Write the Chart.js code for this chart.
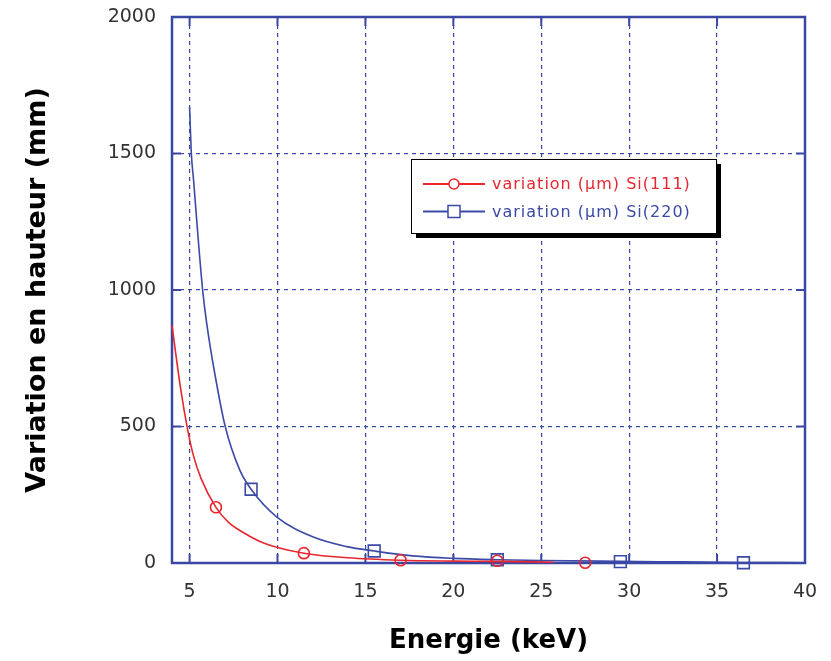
<!DOCTYPE html>
<html><head><meta charset="utf-8">
<script src="https://cdn.jsdelivr.net/npm/chart.js@4.4.0/dist/chart.umd.min.js"></script>
<style>html,body{margin:0;padding:0;background:#fff;}</style>
</head><body>
<canvas id="c" width="831" height="661"></canvas>
<script>
// ---- data ----
const energySi111Curve    = [4.0, 4.5, 4.9, 5.2, 5.65, 6.5, 7.2, 8.1, 9.0, 10.0, 11.5, 14.0, 17.0, 20.0, 22.5, 25.7];
const variationSi111Curve = [870, 635, 485, 398, 310, 204, 150, 110, 79, 57, 36, 19, 10, 7, 6, 3];
const energySi111Marks    = [6.5, 11.5, 17.0, 22.5, 27.5];
const variationSi111Marks = [204, 36, 10, 8, 1];

const energySi220Curve    = [5.0, 5.05, 5.1, 5.23, 5.48, 5.75, 6.0, 6.43, 7.03, 7.85, 8.5, 9.93, 12.0, 13.94, 15.5, 17.7, 20.0, 22.5, 25.0, 29.5, 33.0, 36.5, 40.0];
const variationSi220Curve = [1670, 1580, 1500, 1400, 1195, 995, 866, 695, 499, 341, 270, 170, 96, 60, 44, 26, 17, 12, 9, 6, 4, 2, 1];
const energySi220Marks    = [8.5, 15.5, 22.5, 29.5, 36.5];
const variationSi220Marks = [270, 44, 12, 5, 1];

const seriesLabels = ['variation (µm) Si(111)', 'variation (µm) Si(220)'];
const xTickValues = [5, 10, 15, 20, 25, 30, 35, 40];
const yTickValues = [0, 500, 1000, 1500, 2000];
const xTitle = 'Energie (keV)';
const yTitle = 'Variation en hauteur (mm)';

const RED = '#e8262e', BLUE = '#3b4aa6', AXIS = '#3a48a4';
const pts = (xs, ys) => xs.map((x, i) => ({x, y: ys[i]}));

const frame = {
  id: 'frame',
  beforeDatasetsDraw(chart) {
    const {ctx, chartArea: a, scales} = chart;
    ctx.save();
    ctx.strokeStyle = AXIS;
    ctx.lineWidth = 2.5;
    ctx.strokeRect(a.left, a.top, a.right - a.left, a.bottom - a.top);
    ctx.lineWidth = 2;
    scales.x.ticks.forEach(t => {
      const px = scales.x.getPixelForValue(t.value);
      ctx.beginPath(); ctx.moveTo(px, a.bottom); ctx.lineTo(px, a.bottom - 9);
      ctx.moveTo(px, a.top); ctx.lineTo(px, a.top + 9); ctx.stroke();
    });
    scales.y.ticks.forEach(t => {
      const py = scales.y.getPixelForValue(t.value);
      ctx.beginPath(); ctx.moveTo(a.left, py); ctx.lineTo(a.left + 9, py);
      ctx.moveTo(a.right, py); ctx.lineTo(a.right - 9, py); ctx.stroke();
    });
    ctx.restore();
  }
};

const boxLegend = {
  id: 'boxLegend',
  afterDraw(chart) {
    const {ctx} = chart;
    const x = 411, y = 159, w = 305, h = 74;
    ctx.save();
    ctx.fillStyle = '#000';
    ctx.fillRect(x + 5, y + 5, w, h);
    ctx.fillStyle = '#fff';
    ctx.fillRect(x, y, w, h);
    ctx.strokeStyle = '#000';
    ctx.lineWidth = 1;
    ctx.strokeRect(x + 0.5, y + 0.5, w, h);
    const items = chart.data.datasets.filter(d => d.legendItem);
    items.forEach((d, i) => {
      const cy = y + 25 + i * 27.5;
      ctx.strokeStyle = d.borderColor;
      ctx.lineWidth = 2;
      ctx.beginPath(); ctx.moveTo(x + 12, cy); ctx.lineTo(x + 74, cy); ctx.stroke();
      ctx.fillStyle = '#fff';
      ctx.lineWidth = 1.5;
      if (d.legendItem === 'circle') {
        ctx.beginPath(); ctx.arc(x + 43, cy, 5, 0, Math.PI * 2); ctx.fill(); ctx.stroke();
      } else {
        ctx.fillRect(x + 37, cy - 6, 12, 12); ctx.strokeRect(x + 37, cy - 6, 12, 12);
      }
      ctx.fillStyle = d.borderColor;
      ctx.font = '16px "DejaVu Sans"';
      if ('letterSpacing' in ctx) ctx.letterSpacing = '1px';
      ctx.textBaseline = 'middle';
      ctx.textAlign = 'left';
      ctx.fillText(d.label, x + 81, cy + 1);
    });
    ctx.restore();
  }
};

new Chart(document.getElementById('c'), {
  type: 'scatter',
  data: {
    datasets: [
      {label: seriesLabels[0], legendItem: 'circle', data: pts(energySi111Curve, variationSi111Curve),
       showLine: true, borderColor: RED, borderWidth: 1.6, pointRadius: 0, cubicInterpolationMode: 'monotone', clip: 2},
      {label: seriesLabels[0] + ' pts', data: pts(energySi111Marks, variationSi111Marks),
       showLine: false, borderColor: RED, backgroundColor: 'rgba(255,255,255,0)', pointStyle: 'circle', pointRadius: 5.5, pointBorderWidth: 1.6, clip: false},
      {label: seriesLabels[1], legendItem: 'rect', data: pts(energySi220Curve, variationSi220Curve),
       showLine: true, borderColor: BLUE, borderWidth: 1.6, pointRadius: 0, cubicInterpolationMode: 'monotone', clip: 2},
      {label: seriesLabels[1] + ' pts', data: pts(energySi220Marks, variationSi220Marks),
       showLine: false, borderColor: BLUE, backgroundColor: 'rgba(255,255,255,0)', pointStyle: 'rect', pointRadius: 8.3, pointBorderWidth: 1.6, clip: false}
    ]
  },
  options: {
    responsive: false,
    animation: false,
    devicePixelRatio: 1,
    layout: {padding: {left: 0, right: 26, top: 17, bottom: 0}},
    plugins: {legend: {display: false}, tooltip: {enabled: false}},
    scales: {
      x: {
        type: 'linear', min: 4, max: 40,
        afterBuildTicks: s => { s.ticks = xTickValues.map(v => ({value: v})); },
        afterFit: s => { s.height = 98; s.paddingLeft = 0; s.paddingRight = 0; },
        border: {display: false, dash: [4, 4]},
        grid: {color: AXIS, lineWidth: 1.2, drawTicks: false},
        ticks: {color: '#333', font: {family: '"DejaVu Sans"', size: 19}, padding: 18, maxRotation: 0,
                callback: v => String(v)},
        title: {display: true, text: xTitle, color: '#000', font: {family: '"DejaVu Sans"', size: 26, weight: 'bold'}, padding: {top: 0, bottom: 4}}
      },
      y: {
        type: 'linear', min: 0, max: 2000,
        afterBuildTicks: s => { s.ticks = yTickValues.map(v => ({value: v})); },
        afterFit: s => { s.width = 172; s.paddingTop = 0; s.paddingBottom = 0; },
        border: {display: false, dash: [4, 4]},
        grid: {color: AXIS, lineWidth: 1.2, drawTicks: false},
        ticks: {color: '#333', font: {family: '"DejaVu Sans"', size: 19}, padding: 16,
                callback: v => String(v)},
        title: {display: true, text: yTitle, color: '#000', font: {family: '"DejaVu Sans"', size: 27, weight: 'bold'}, padding: {top: 22, bottom: 0}}
      }
    }
  },
  plugins: [frame, boxLegend]
});
</script>
</body></html>
